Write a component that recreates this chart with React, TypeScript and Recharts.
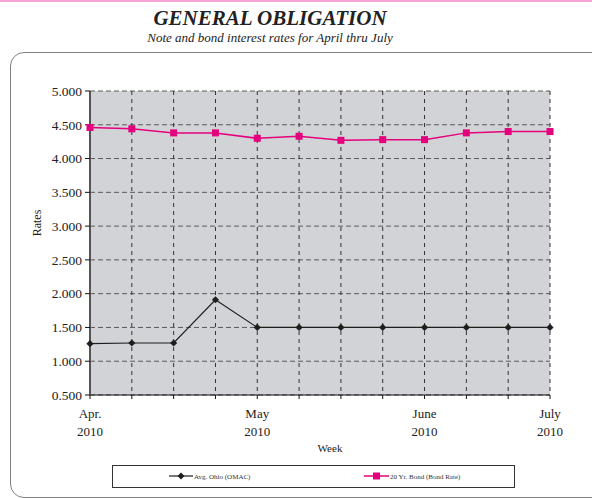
import React from "react";
import { LineChart, Line, XAxis, YAxis, CartesianGrid, Legend, Label } from "recharts";

const weeks = ["1", "2", "3", "4", "5", "6", "7", "8", "9", "10", "11", "12"];
const monthLabels = ["Apr.", "", "", "", "May", "", "", "", "June", "", "", "July"];
const yearLabels = ["2010", "", "", "", "2010", "", "", "", "2010", "", "", "2010"];
const ohioRates = [1.26, 1.27, 1.27, 1.91, 1.5, 1.5, 1.5, 1.5, 1.5, 1.5, 1.5, 1.5];
const bondRates = [4.46, 4.44, 4.38, 4.38, 4.3, 4.33, 4.27, 4.28, 4.28, 4.38, 4.4, 4.4];
const rateTicks = [0.5, 1, 1.5, 2, 2.5, 3, 3.5, 4, 4.5, 5];

const data = weeks.map((w, i) => ({
  week: w,
  ohio: ohioRates[i],
  bond: bondRates[i],
}));

const serif = '"Liberation Serif", "Times New Roman", serif';
const PINK = "#e5007d";
const BLACK = "#1e1e1e";

const Diamond = (props: any) => {
  const { cx, cy } = props;
  if (cx == null || cy == null) return null;
  const r = 3.6;
  return (
    <path
      d={`M${cx},${cy - r} L${cx + r},${cy} L${cx},${cy + r} L${cx - r},${cy} Z`}
      fill={BLACK}
    />
  );
};

const Square = (props: any) => {
  const { cx, cy } = props;
  if (cx == null || cy == null) return null;
  return <rect x={cx - 3.5} y={cy - 3.5} width={7} height={7} fill={PINK} />;
};

const WeekTick = (props: any) => {
  const { x, payload } = props;
  const i = weeks.indexOf(payload.value);
  if (!monthLabels[i]) return null;
  return (
    <text x={x} y={418} textAnchor="middle" fontFamily={serif} fontSize={13} fill="#222">
      <tspan x={x}>{monthLabels[i]}</tspan>
      <tspan x={x} dy={18}>
        {yearLabels[i]}
      </tspan>
    </text>
  );
};

const LegendBox = () => (
  <div
    style={{
      height: 23,
      boxSizing: "border-box",
      border: "1.5px solid #333",
      position: "relative",
      fontFamily: serif,
      fontSize: 7,
      color: "#333",
      background: "#fff",
    }}
  >
    <svg width={400} height={20} style={{ position: "absolute", left: 0, top: 0 }}>
      <line x1={56} y1={10} x2={80} y2={10} stroke={BLACK} strokeWidth={1.2} />
      <path d="M68,6.5 L71.5,10 L68,13.5 L64.5,10 Z" fill={BLACK} />
      <text x={81} y={12.5} fontFamily={serif} fontSize={7} fill="#333">
        Avg. Ohio (OMAC)
      </text>
      <line x1={251} y1={10} x2={276} y2={10} stroke={PINK} strokeWidth={1.5} />
      <rect x={260} y={6.5} width={7} height={7} fill={PINK} />
      <text x={277} y={12.5} fontFamily={serif} fontSize={7} fill="#333">
        20 Yr. Bond (Bond Rate)
      </text>
    </svg>
  </div>
);

export default function App() {
  return (
    <div
      style={{
        position: "absolute",
        left: 0,
        top: 0,
        width: 592,
        height: 498,
        overflow: "hidden",
        background: "#fff",
      }}
    >
      <div style={{ position: "absolute", left: 0, top: 0, width: 592, height: 2, background: "#f6a5d6" }} />
      <div
        style={{
          position: "absolute",
          top: 6,
          left: 0,
          width: 540,
          textAlign: "center",
          fontFamily: serif,
          fontStyle: "italic",
          fontWeight: "bold",
          fontSize: 21,
          color: "#222",
        }}
      >
        GENERAL OBLIGATION
      </div>
      <div
        style={{
          position: "absolute",
          top: 30,
          left: 0,
          width: 540,
          textAlign: "center",
          fontFamily: serif,
          fontStyle: "italic",
          fontSize: 13,
          color: "#222",
        }}
      >
        Note and bond interest rates for April thru July
      </div>
      <div
        style={{
          position: "absolute",
          left: 10,
          top: 52,
          width: 640,
          height: 444,
          border: "1.5px solid #808080",
          borderRadius: 14,
        }}
      />
      <div style={{ position: "absolute", left: 0, top: 0 }}>
        <LineChart
          width={592}
          height={498}
          data={data}
          margin={{ top: 91, right: 42, bottom: 10, left: 0 }}
        >
          <CartesianGrid
            vertical={false}
            fill="#d2d3d6"
            stroke="#5a5a5a"
            strokeDasharray="5 3"
            horizontalValues={rateTicks}
          />
          <CartesianGrid horizontal={false} stroke="#333" strokeDasharray="4 4" />
          <XAxis
            dataKey="week"
            height={70}
            tick={<WeekTick />}
            tickSize={4}
            axisLine={{ stroke: "#111", strokeWidth: 1 }}
            tickLine={{ stroke: "#111" }}
            interval={0}
          >
            <Label
              value="Week"
              position="insideBottom"
              offset={13}
              dx={10}
              style={{ fontFamily: serif, fontSize: 11, fill: "#222" }}
            />
          </XAxis>
          <YAxis
            width={90}
            domain={[0.5, 5]}
            ticks={rateTicks}
            tickFormatter={(v: number) => v.toFixed(3)}
            tickSize={5}
            tickMargin={3}
            axisLine={{ stroke: "#555", strokeWidth: 2 }}
            tickLine={{ stroke: "#111" }}
            tick={{ fontFamily: serif, fontSize: 13.5, fill: "#222" }}
          >
            <Label
              content={(p: any) => {
                const vb = p.viewBox || {};
                const cx = (vb.x ?? 0) + 41;
                const cy = (vb.y ?? 0) + (vb.height ?? 0) / 2 - 20;
                return (
                  <text
                    x={cx}
                    y={cy}
                    transform={`rotate(-90, ${cx}, ${cy})`}
                    textAnchor="middle"
                    fontFamily={serif}
                    fontSize={12}
                    fill="#222"
                  >
                    Rates
                  </text>
                );
              }}
            />
          </YAxis>
          <Legend
            verticalAlign="bottom"
            content={<LegendBox />}
            wrapperStyle={{ left: 112, width: 403, bottom: 10 }}
          />
          <Line
            type="linear"
            dataKey="ohio"
            name="Avg. Ohio (OMAC)"
            stroke={BLACK}
            strokeWidth={1.2}
            dot={<Diamond />}
            activeDot={false}
            isAnimationActive={false}
          />
          <Line
            type="linear"
            dataKey="bond"
            name="20 Yr. Bond (Bond Rate)"
            stroke={PINK}
            strokeWidth={1.5}
            dot={<Square />}
            activeDot={false}
            isAnimationActive={false}
          />
        </LineChart>
      </div>
    </div>
  );
}
